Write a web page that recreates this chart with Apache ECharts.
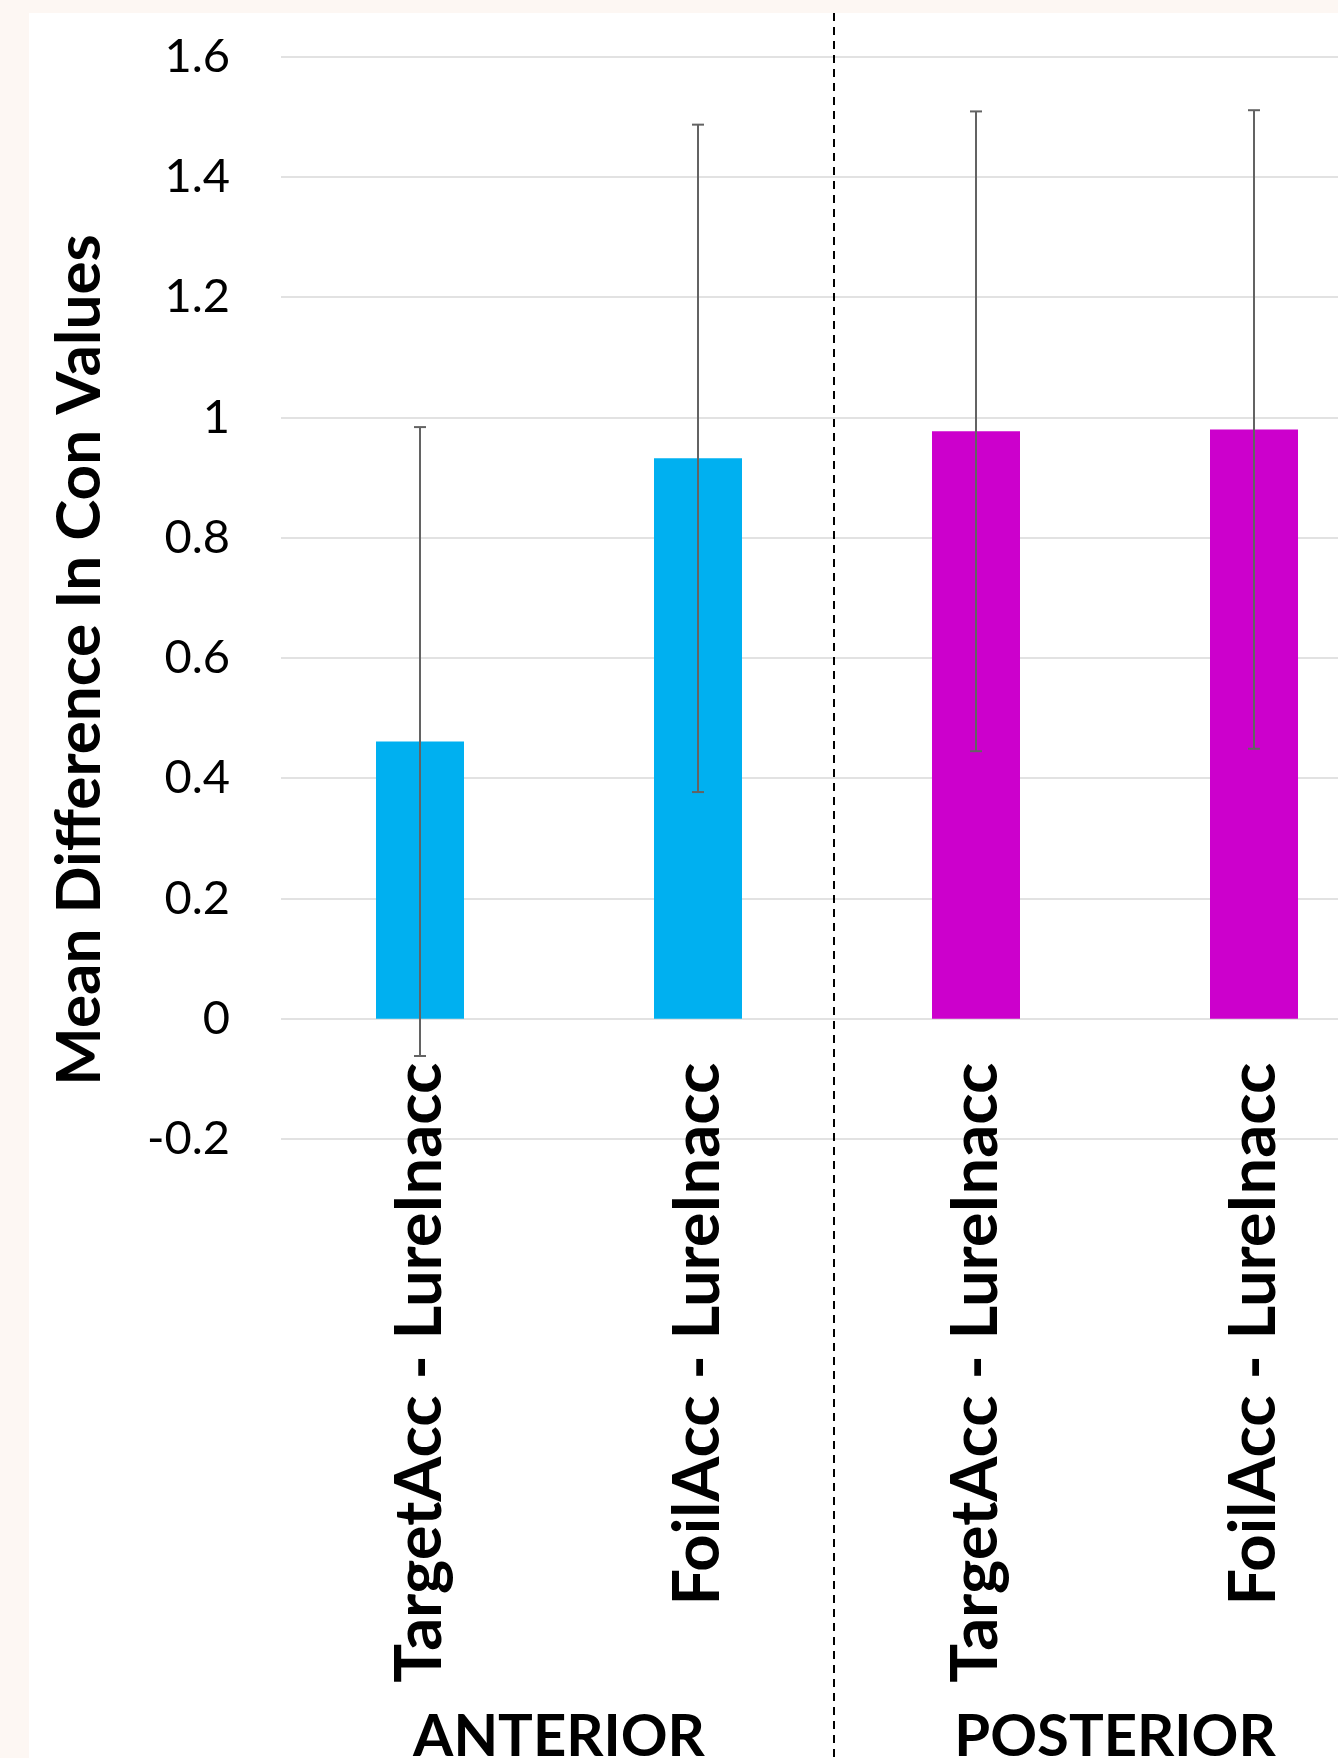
<!DOCTYPE html>
<html>
<head>
<meta charset="utf-8">
<script src="https://cdn.jsdelivr.net/npm/echarts@6/dist/echarts.min.js"></script>
<style>
  html, body { margin: 0; padding: 0; background: #fdf7f3; overflow: hidden; width: 1338px; height: 1758px; }
  #paper { position: absolute; left: 29px; top: 13px; width: 1309px; height: 1745px; background: #ffffff; }
  #chart { position: absolute; left: 0; top: 0; width: 1393px; height: 1758px; }
</style>
</head>
<body>
<div id="paper"></div>
<div id="chart"></div>
<script>
// ---- data ----
const categories = ['TargetAcc - LureInacc', 'FoilAcc - LureInacc', 'TargetAcc - LureInacc', 'FoilAcc - LureInacc'];
const regions = ['ANTERIOR', 'POSTERIOR'];
const meanValues = [0.461, 0.932, 0.977, 0.980];
const errorValues = [0.523, 0.555, 0.532, 0.531];
const regionOfBar = [0, 0, 1, 1];
const yTicks = { min: -0.2, max: 1.6, interval: 0.2 };
const yTitle = 'Mean Difference In Con Values';

const regionColors = ['#00b0f0', '#cc00cc'];
const FONT = 'Lato, "Noto Sans", sans-serif';

const chart = echarts.init(document.getElementById('chart'), null, { renderer: 'canvas' });

const errorData = meanValues.map((m, i) => [i, m, errorValues[i]]);

const option = {
  backgroundColor: 'transparent',
  animation: false,
  grid: { left: 281, top: 56.7, right: 0, bottom: 619, containLabel: false, outerBoundsMode: 'none' },
  xAxis: [
    {
      type: 'category',
      data: categories,
      position: 'bottom',
      offset: 0,
      axisLine: { show: false, onZero: false },
      axisTick: { show: false },
      splitLine: { show: false },
      axisLabel: {
        rotate: 90,
        margin: 44,
        interval: 0,
        color: '#000000',
        fontFamily: FONT,
        fontWeight: 'bold',
        fontSize: 65
      }
    },
    {
      type: 'category',
      data: regions,
      position: 'bottom',
      axisLine: { show: false, onZero: false },
      axisTick: { show: false },
      splitLine: { show: false },
      axisLabel: {
        margin: 569,
        interval: 0,
        color: '#000000',
        fontFamily: FONT,
        fontWeight: 'bold',
        fontSize: 58,
        lineHeight: 58
      }
    }
  ],
  yAxis: {
    type: 'value',
    min: yTicks.min,
    max: yTicks.max,
    interval: yTicks.interval,
    axisLine: { show: false },
    axisTick: { show: false },
    splitLine: { show: true, lineStyle: { color: '#d9d9d9', width: 1.5 } },
    axisLabel: {
      margin: 51,
      color: '#000000',
      fontFamily: FONT,
      fontSize: 47
    }
  },
  series: [
    {
      type: 'bar',
      xAxisIndex: 0,
      data: meanValues,
      barWidth: 88,
      itemStyle: {
        color: (p) => regionColors[regionOfBar[p.dataIndex]]
      },
      z: 2
    },
    {
      type: 'custom',
      xAxisIndex: 0,
      data: errorData,
      z: 5,
      renderItem: function (params, api) {
        const i = api.value(0);
        const m = api.value(1);
        const e = api.value(2);
        const top = api.coord([i, m + e]);
        const bot = api.coord([i, m - e]);
        const hw = 6;
        const style = { stroke: '#636363', lineWidth: 2 };
        return {
          type: 'group',
          children: [
            { type: 'line', shape: { x1: top[0], y1: top[1], x2: bot[0], y2: bot[1] }, style: style },
            { type: 'line', shape: { x1: top[0] - hw, y1: top[1], x2: top[0] + hw, y2: top[1] }, style: style },
            { type: 'line', shape: { x1: bot[0] - hw, y1: bot[1], x2: bot[0] + hw, y2: bot[1] }, style: style }
          ]
        };
      }
    }
  ]
};

chart.setOption(option);

// move the category axis (and its labels) up to the value 0, using the value scale
const zeroY = chart.convertToPixel({ yAxisIndex: 0 }, 0);
const minY = chart.convertToPixel({ yAxisIndex: 0 }, yTicks.min);

// dashed separator between the two regions, placed via the category scale
const p1 = chart.convertToPixel({ xAxisIndex: 0 }, 1);
const p2 = chart.convertToPixel({ xAxisIndex: 0 }, 2);
const sepX = Math.round((p1 + p2) / 2) - 3;

chart.setOption({
  xAxis: [{ offset: zeroY - minY }, {}],
  graphic: [
    {
      type: 'line',
      shape: { x1: sepX, y1: 13, x2: sepX, y2: 1758 },
      style: { stroke: '#000000', lineWidth: 2, lineDash: [8, 6] },
      z: 10
    },
    {
      type: 'text',
      x: 80,
      y: 660,
      rotation: Math.PI / 2,
      style: {
        text: yTitle,
        fill: '#000000',
        font: 'bold 62px ' + FONT,
        align: 'center',
        verticalAlign: 'middle'
      },
      z: 10
    }
  ]
});
</script>
</body>
</html>
